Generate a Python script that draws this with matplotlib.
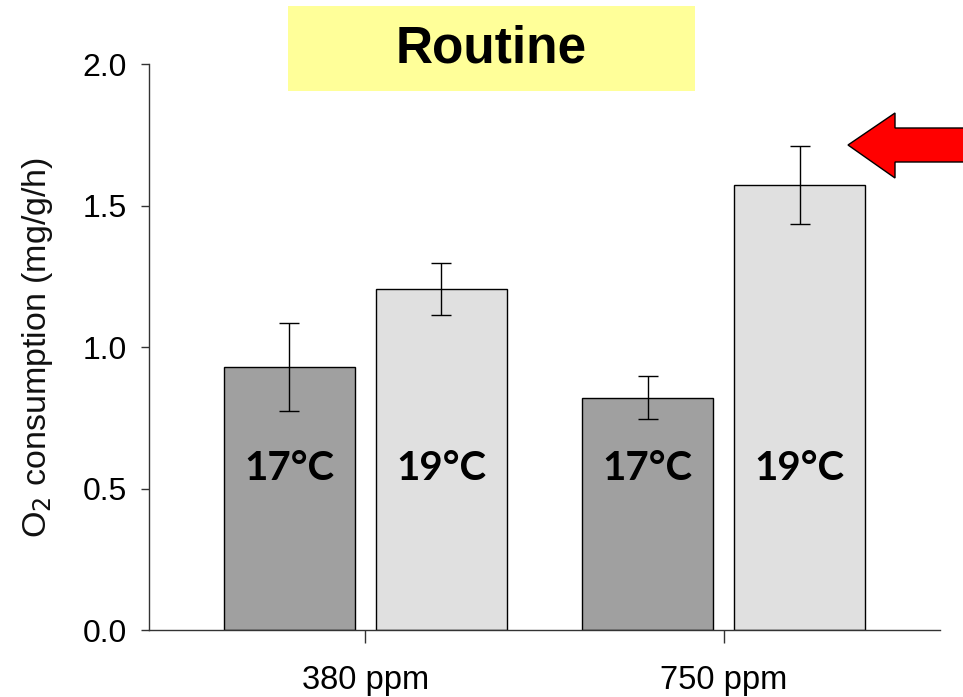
import matplotlib.pyplot as plt
from matplotlib.patches import Rectangle, Polygon
import numpy as np

# CO2 treatments on the x axis, temperature groups as paired bars
co2_levels = ['380 ppm', '750 ppm']
temps = ['17°C', '19°C']
o2_17 = [0.93, 0.82]
o2_19 = [1.205, 1.572]
err_17 = [0.155, 0.076]
err_19 = [0.092, 0.138]

bar_colours = ['#a0a0a0', '#e0e0e0']

plt.rcParams['font.family'] = ['Liberation Sans', 'DejaVu Sans']

fig = plt.figure(figsize=(9.63, 6.97), dpi=100)
ax = fig.add_axes([149 / 963, 1 - 630 / 697, 791 / 963, 566 / 697])

x = np.arange(len(co2_levels))
width = 0.366
offset = 0.212

for vals, errs, shift, colour, label in zip([o2_17, o2_19], [err_17, err_19],
                                            [-offset, offset], bar_colours, temps):
    ax.bar(x + shift, vals, width, color=colour, edgecolor='black', linewidth=1.0)
    ax.errorbar(x + shift, vals, yerr=errs, fmt='none', ecolor='black',
                elinewidth=1.0, capsize=7, capthick=1.0)
    # temperature label inside each bar
    for xi in x + shift:
        ax.text(xi, 0.57, label, ha='center', va='center', fontsize=29,
                fontweight='bold', family=['Lato', 'DejaVu Sans'])

ax.set_xlim(-0.603, 1.603)
ax.set_ylim(0, 2.0)
ax.set_yticks([0.0, 0.5, 1.0, 1.5, 2.0])
ax.set_yticklabels(['0.0', '0.5', '1.0', '1.5', '2.0'])
ax.set_xticks(x)
ax.set_xticklabels(co2_levels, fontsize=23.5)

for side in ['top', 'right']:
    ax.spines[side].set_visible(False)
for side in ['left', 'bottom']:
    ax.spines[side].set_linewidth(1.0)
    ax.spines[side].set_color('#333333')

ax.tick_params(axis='y', direction='out', length=6, width=1.0, labelsize=23, pad=10, color='#333333')
ax.tick_params(axis='x', direction='out', length=9, width=1.0, pad=16, color='#333333')

ax.set_ylabel('O$_2$ consumption (mg/g/h)', fontsize=24.5, color='#111111')
ax.yaxis.set_label_coords(-94 / 791, 0.5)

# title box
fig.patches.append(Rectangle((288 / 963, 1 - 91 / 697), 407 / 963, 85 / 697,
                             transform=fig.transFigure, facecolor='#ffff99',
                             edgecolor='none', zorder=0))
fig.text(491 / 963, 1 - 49 / 697, 'Routine', ha='center', va='center',
         fontsize=37, fontweight='bold')

# red arrow pointing at the 750 ppm / 19°C bar
arrow_px = [(848, 145), (895, 113), (895, 128), (970, 128),
            (970, 162), (895, 162), (895, 178)]
arrow_pts = [(px / 963, 1 - py / 697) for px, py in arrow_px]
fig.patches.append(Polygon(arrow_pts, closed=True, transform=fig.transFigure,
                           facecolor='#ff0000', edgecolor='black', linewidth=1.0))

fig.savefig('out.png', dpi=100)
